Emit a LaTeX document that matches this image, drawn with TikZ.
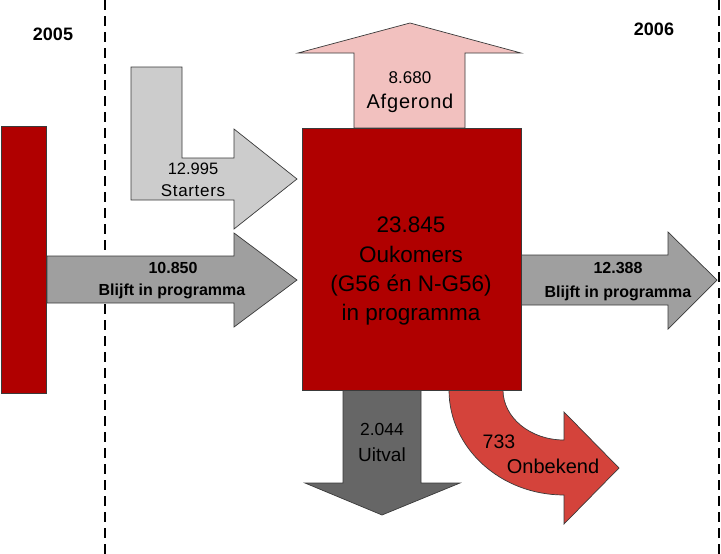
\documentclass[tikz,border=0pt]{standalone}
\usepackage{fontspec}
\setmainfont{Liberation Sans}
\newfontfamily\spaced[LetterSpace=4]{Liberation Sans}
\definecolor{boxred}{HTML}{B00000}
\definecolor{pinkarrow}{HTML}{F2C1BF}
\definecolor{lightgrey}{HTML}{CCCCCC}
\definecolor{midgrey}{HTML}{9F9F9F}
\definecolor{darkgrey}{HTML}{666666}
\definecolor{orangered}{HTML}{D4433B}
\definecolor{edge}{HTML}{3A3A3A}
\begin{document}
\begin{tikzpicture}[x=1pt,y=-1pt,
  shapeedge/.style={draw=edge, line width=0.7pt, line join=miter},
  yearline/.style={line width=2pt, dash pattern=on 10pt off 6pt},
  txt/.style={inner sep=0pt, anchor=base},
  yeartxt/.style={txt, font=\fontsize{18}{20}\selectfont\bfseries},
  numtxt/.style={txt, font=\fontsize{17}{19}\selectfont},
  boldtxt/.style={txt, font=\fontsize{16}{18}\selectfont\bfseries},
  bigtxt/.style={txt, font=\fontsize{22.5}{26}\selectfont}]
\useasboundingbox (0,0) rectangle (721,554);

% year separators
\draw[yearline] (105,0) -- (105,554);
\draw[yearline] (719,0) -- (719,554);

% left bar (2005)
\filldraw[shapeedge, fill=boxred] (1,126) rectangle (46,393);

% Starters L-arrow
\filldraw[shapeedge, fill=lightgrey] (131,67) -- (182,67) -- (182,158) -- (234,158) -- (234,129) -- (297,179) -- (234,229) -- (234,200) -- (131,200) -- cycle;

% Blijft in programma (left)
\filldraw[shapeedge, fill=midgrey] (47,256) -- (234,256) -- (234,233) -- (297,280) -- (234,327) -- (234,303) -- (47,303) -- cycle;

% Afgerond up arrow
\filldraw[shapeedge, fill=pinkarrow] (354,128) -- (354,53) -- (298,53) -- (410,23) -- (521,53) -- (465,53) -- (465,128) -- cycle;

% Uitval down arrow
\filldraw[shapeedge, fill=darkgrey] (343,390) -- (343,483) -- (305,483) -- (382,515) -- (460,483) -- (421,483) -- (421,390) -- cycle;

% Onbekend curved arrow
\filldraw[shapeedge, fill=orangered] (449,390) .. controls (449,448) and (500.5,495) .. (564,495) -- (564,524) -- (619,468) -- (564,412) -- (564,440) .. controls (530.3,440) and (503,417.6) .. (503,390) -- cycle;

% Blijft in programma (right)
\filldraw[shapeedge, fill=midgrey] (521,255) -- (668,255) -- (668,232) -- (717,280) -- (668,329) -- (668,305) -- (521,305) -- cycle;

% central box
\filldraw[shapeedge, fill=boxred] (302,128) rectangle (521,390);

% texts
\node[yeartxt] (y2005) at (53,40) {2005};
\node[yeartxt] (y2006) at (654,35) {2006};

\node[numtxt, font=\fontsize{16.5}{18}\selectfont] (startn) at (193,174) {12.995};
\node[numtxt, font=\fontsize{17}{19}\selectfont\spaced] (startl) at (193,196) {Starters};

\node[numtxt] (afgn) at (410,83) {8.680};
\node[numtxt, font=\fontsize{20}{22}\selectfont\spaced] (afgl) at (410,108) {Afgerond};

\node[bigtxt] (c1) at (411,232) {23.845};
\node[bigtxt] (c2) at (411,262) {Oukomers};
\node[bigtxt] (c3) at (411,291) {(G56 én N-G56)};
\node[bigtxt] (c4) at (411,320) {in programma};

\node[boldtxt] (ln) at (173,273) {10.850};
\node[boldtxt] (ll) at (172,295) {Blijft in programma};

\node[boldtxt] (rn) at (618,273) {12.388};
\node[boldtxt] (rl) at (618,297) {Blijft in programma};

\node[numtxt, font=\fontsize{17.5}{19}\selectfont] (un) at (382,435) {2.044};
\node[numtxt, font=\fontsize{19}{21}\selectfont] (ul) at (382,461) {Uitval};

\node[numtxt, font=\fontsize{19.5}{21}\selectfont] (on) at (499,448) {733};
\node[numtxt, font=\fontsize{20}{22}\selectfont] (ol) at (553,473) {Onbekend};
\end{tikzpicture}
\end{document}
